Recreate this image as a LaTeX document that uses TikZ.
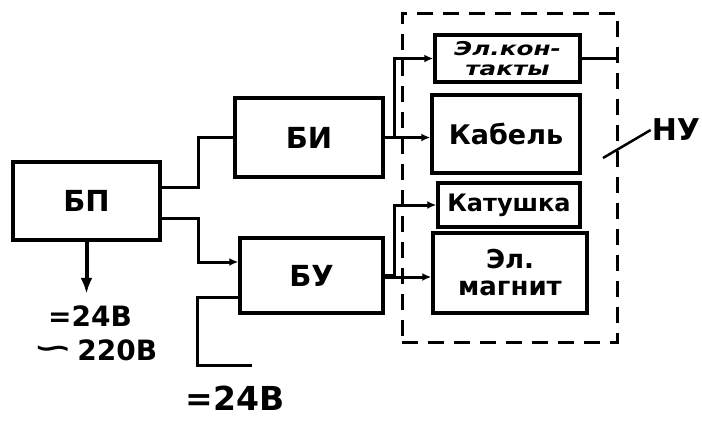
\documentclass[tikz,border=0pt]{standalone}
\usepackage{fontspec}
\setmainfont{DejaVu Sans}
\usetikzlibrary{arrows.meta,calc}
\begin{document}
\begin{tikzpicture}[x=1pt,y=-1pt,
  blk/.style={draw, line width=3.5pt, inner sep=0pt, align=center, font=\bfseries},
  wire/.style={line width=3pt},
  tip/.style={-{Latex[length=9pt,width=8pt]}},
  dashbox/.style={draw, line width=3pt, dash pattern=on 16pt off 10pt, inner sep=0pt},
  lbl/.style={font=\bfseries, inner sep=1pt, align=center}]
\useasboundingbox (0,0) rectangle (702,421);
% blocks
\node[blk, minimum width=147pt, minimum height=78pt, font=\bfseries\fontsize{29}{30}\selectfont] (bp) at (86.5,201) {БП};
\node[blk, minimum width=148pt, minimum height=79pt, font=\bfseries\fontsize{29}{30}\selectfont] (bi) at (309,137.5) {БИ};
\node[blk, minimum width=143pt, minimum height=75pt, font=\bfseries\fontsize{29}{30}\selectfont] (bu) at (311.5,275.5) {БУ};
% NU group
\node[dashbox, minimum width=215pt, minimum height=329pt] (nu) at (509.5,177.5) {};
\node[blk, minimum width=145pt, minimum height=47pt, font=\bfseries\itshape\fontsize{19}{20}\selectfont] (ek) at (507.5,58.5) {\scalebox{1.3}[1]{Эл.кон-}\\\scalebox{1.3}[1]{такты}};
\node[blk, minimum width=148pt, minimum height=78pt, font=\bfseries\fontsize{27}{28}\selectfont] (kab) at (506,134) {Кабель};
\node[blk, minimum width=142pt, minimum height=44pt, font=\bfseries\fontsize{24}{25}\selectfont] (kat) at (509,205) {Катушка};
\node[blk, minimum width=154pt, minimum height=80pt, font=\bfseries\fontsize{26}{27}\selectfont] (mag) at (510,273) {Эл.\\магнит};
\node[lbl, font=\bfseries\fontsize{30}{32}\selectfont] (nul) at (676,130) {НУ};
\coordinate (nut) at (603,158);
\draw[line width=2.5pt] (nut) -- (nul.west);
% labels
\node[lbl, font=\bfseries\fontsize{28}{30}\selectfont] (v1) at (90,316) {=24В};
\node[lbl, font=\bfseries\fontsize{28}{30}\selectfont] (v2) at (95,350) {\raisebox{3pt}{\scalebox{1.7}[1]{∽}}\,220В};
\node[lbl, font=\bfseries\fontsize{33}{34}\selectfont] (v3) at (235,398) {=24В};
\coordinate (v3end) at (252,365);
% connectors
\draw[wire] ([yshift=14pt]bp.east) -- ++(37,0) |- (bi.west);
\draw[wire, tip] ([yshift=-17pt]bp.east) -- ++(37,0) |- ([yshift=13.5pt]bu.west);
\draw[wire] ([yshift=-21.5pt]bu.west) -| ($(v3end)+(-55,0)$) -- (v3end);
\draw[line width=4pt, -{Latex[length=16pt,width=12pt]}] (bp.south) -- ++(0,52);
\draw[wire, tip] (bi.east) -- ++(10,0) |- (ek.west);
\draw[wire, tip] (bi.east) -- (bi.east -| kab.west);
\draw[wire] (ek.east) -- (ek.east -| nu.east);
\draw[wire, tip] (bu.east) -- ++(10,0) |- (kat.west);
\draw[wire, tip] ([yshift=-1.5pt]bu.east) -- ([yshift=-1.5pt]bu.east -| mag.west);
\end{tikzpicture}
\end{document}
